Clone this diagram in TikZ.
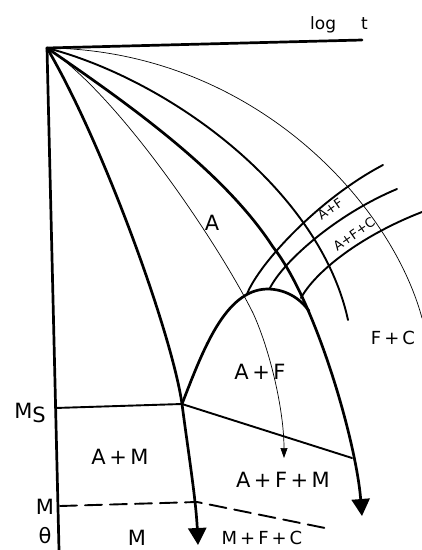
\documentclass[tikz,border=0pt]{standalone}
\usepackage{fontspec}
\setmainfont{DejaVu Sans}
\usetikzlibrary{arrows.meta}
\begin{document}
\begin{tikzpicture}[x=1pt,y=-1pt,line cap=round,line join=round,
  bold/.style={line width=2.7pt},
  mid/.style={line width=1.9pt},
  fine/.style={line width=0.7pt},
  bigtip/.style={-{Triangle[width=18pt,length=17pt]}},
  smalltip/.style={-{Triangle[width=7pt,length=10pt]}},
  lab/.style={font=\fontsize{21}{21}\selectfont},
  small/.style={font=\fontsize{13}{13}\selectfont,inner sep=0.5pt}]
  \useasboundingbox (0,0) rectangle (422,550);
  \coordinate (O) at (47,48);
  \coordinate (ms) at (182,404);
  \coordinate (top) at (267,289);
  % axes
  \draw[bold] (O)--(59,550);
  \draw[bold] (O)--(362,40);
  % cooling curves
  \draw[bold,bigtip] (O) .. controls (103,143) and (172,334) .. (ms) .. controls (188,450) and (196,500) .. (198,545);
  \draw[fine,smalltip] (O) .. controls (117,93) and (218,243) .. (253,313) .. controls (270,350) and (284,410) .. (284,458);
  \draw[bold,bigtip] (O) .. controls (133,107) and (225,173) .. (273,247) .. controls (315,300) and (356,440) .. (362,516);
  \draw[mid] (O) .. controls (170,80) and (320,190) .. (348,320);
  \draw[fine] (O) .. controls (250,50) and (390,200) .. (422,318);
  % transformation bands
  \draw[bold] (ms) .. controls (203,350) and (225,290) .. (top) .. controls (285,289) and (300,298) .. (309,311);
  \draw[mid] (247,294) .. controls (260,262) and (320,198) .. (383,165);
  \draw[mid] (270,288) .. controls (283,262) and (335,215) .. (397,189);
  \draw[mid] (301,298) .. controls (315,272) and (360,236) .. (422,212);
  % martensite lines
  \draw[mid] (55,408)--(ms)--(352,458);
  \draw[mid,dash pattern=on 17pt off 8pt] (60,506)--(197,502)--(325,528);
  % labels
  \node[font=\fontsize{17}{17}\selectfont,anchor=base] (lt) at (339,29) {log\hspace{25pt}t};
  \node[lab] (lms) at (30,413) {M\raisebox{-4pt}{S}};
  \node[lab] (lm) at (45,507) {M};
  \node[lab] (lth) at (45,536) {θ};
  \node[lab] (la) at (212,223) {A};
  \node[lab] (laf) at (260,372) {A\,+\,F};
  \node[lab] (lam) at (120,457) {A\,+\,M};
  \node[lab] (lafm) at (283,480) {A\,+\,F\,+\,M};
  \node[lab] (lmm) at (137,538) {M};
  \node[font=\fontsize{18}{18}\selectfont] (lmfc) at (262,538) {M\,+\,F\,+\,C};
  \node[font=\fontsize{18}{18}\selectfont] (lfc) at (393,338) {F\,+\,C};
  \node[small,rotate=35] (lbaf) at (330,209) {A+F};
  \node[small,rotate=35] (lbafc) at (354,234) {A+F+C};
\end{tikzpicture}
\end{document}
